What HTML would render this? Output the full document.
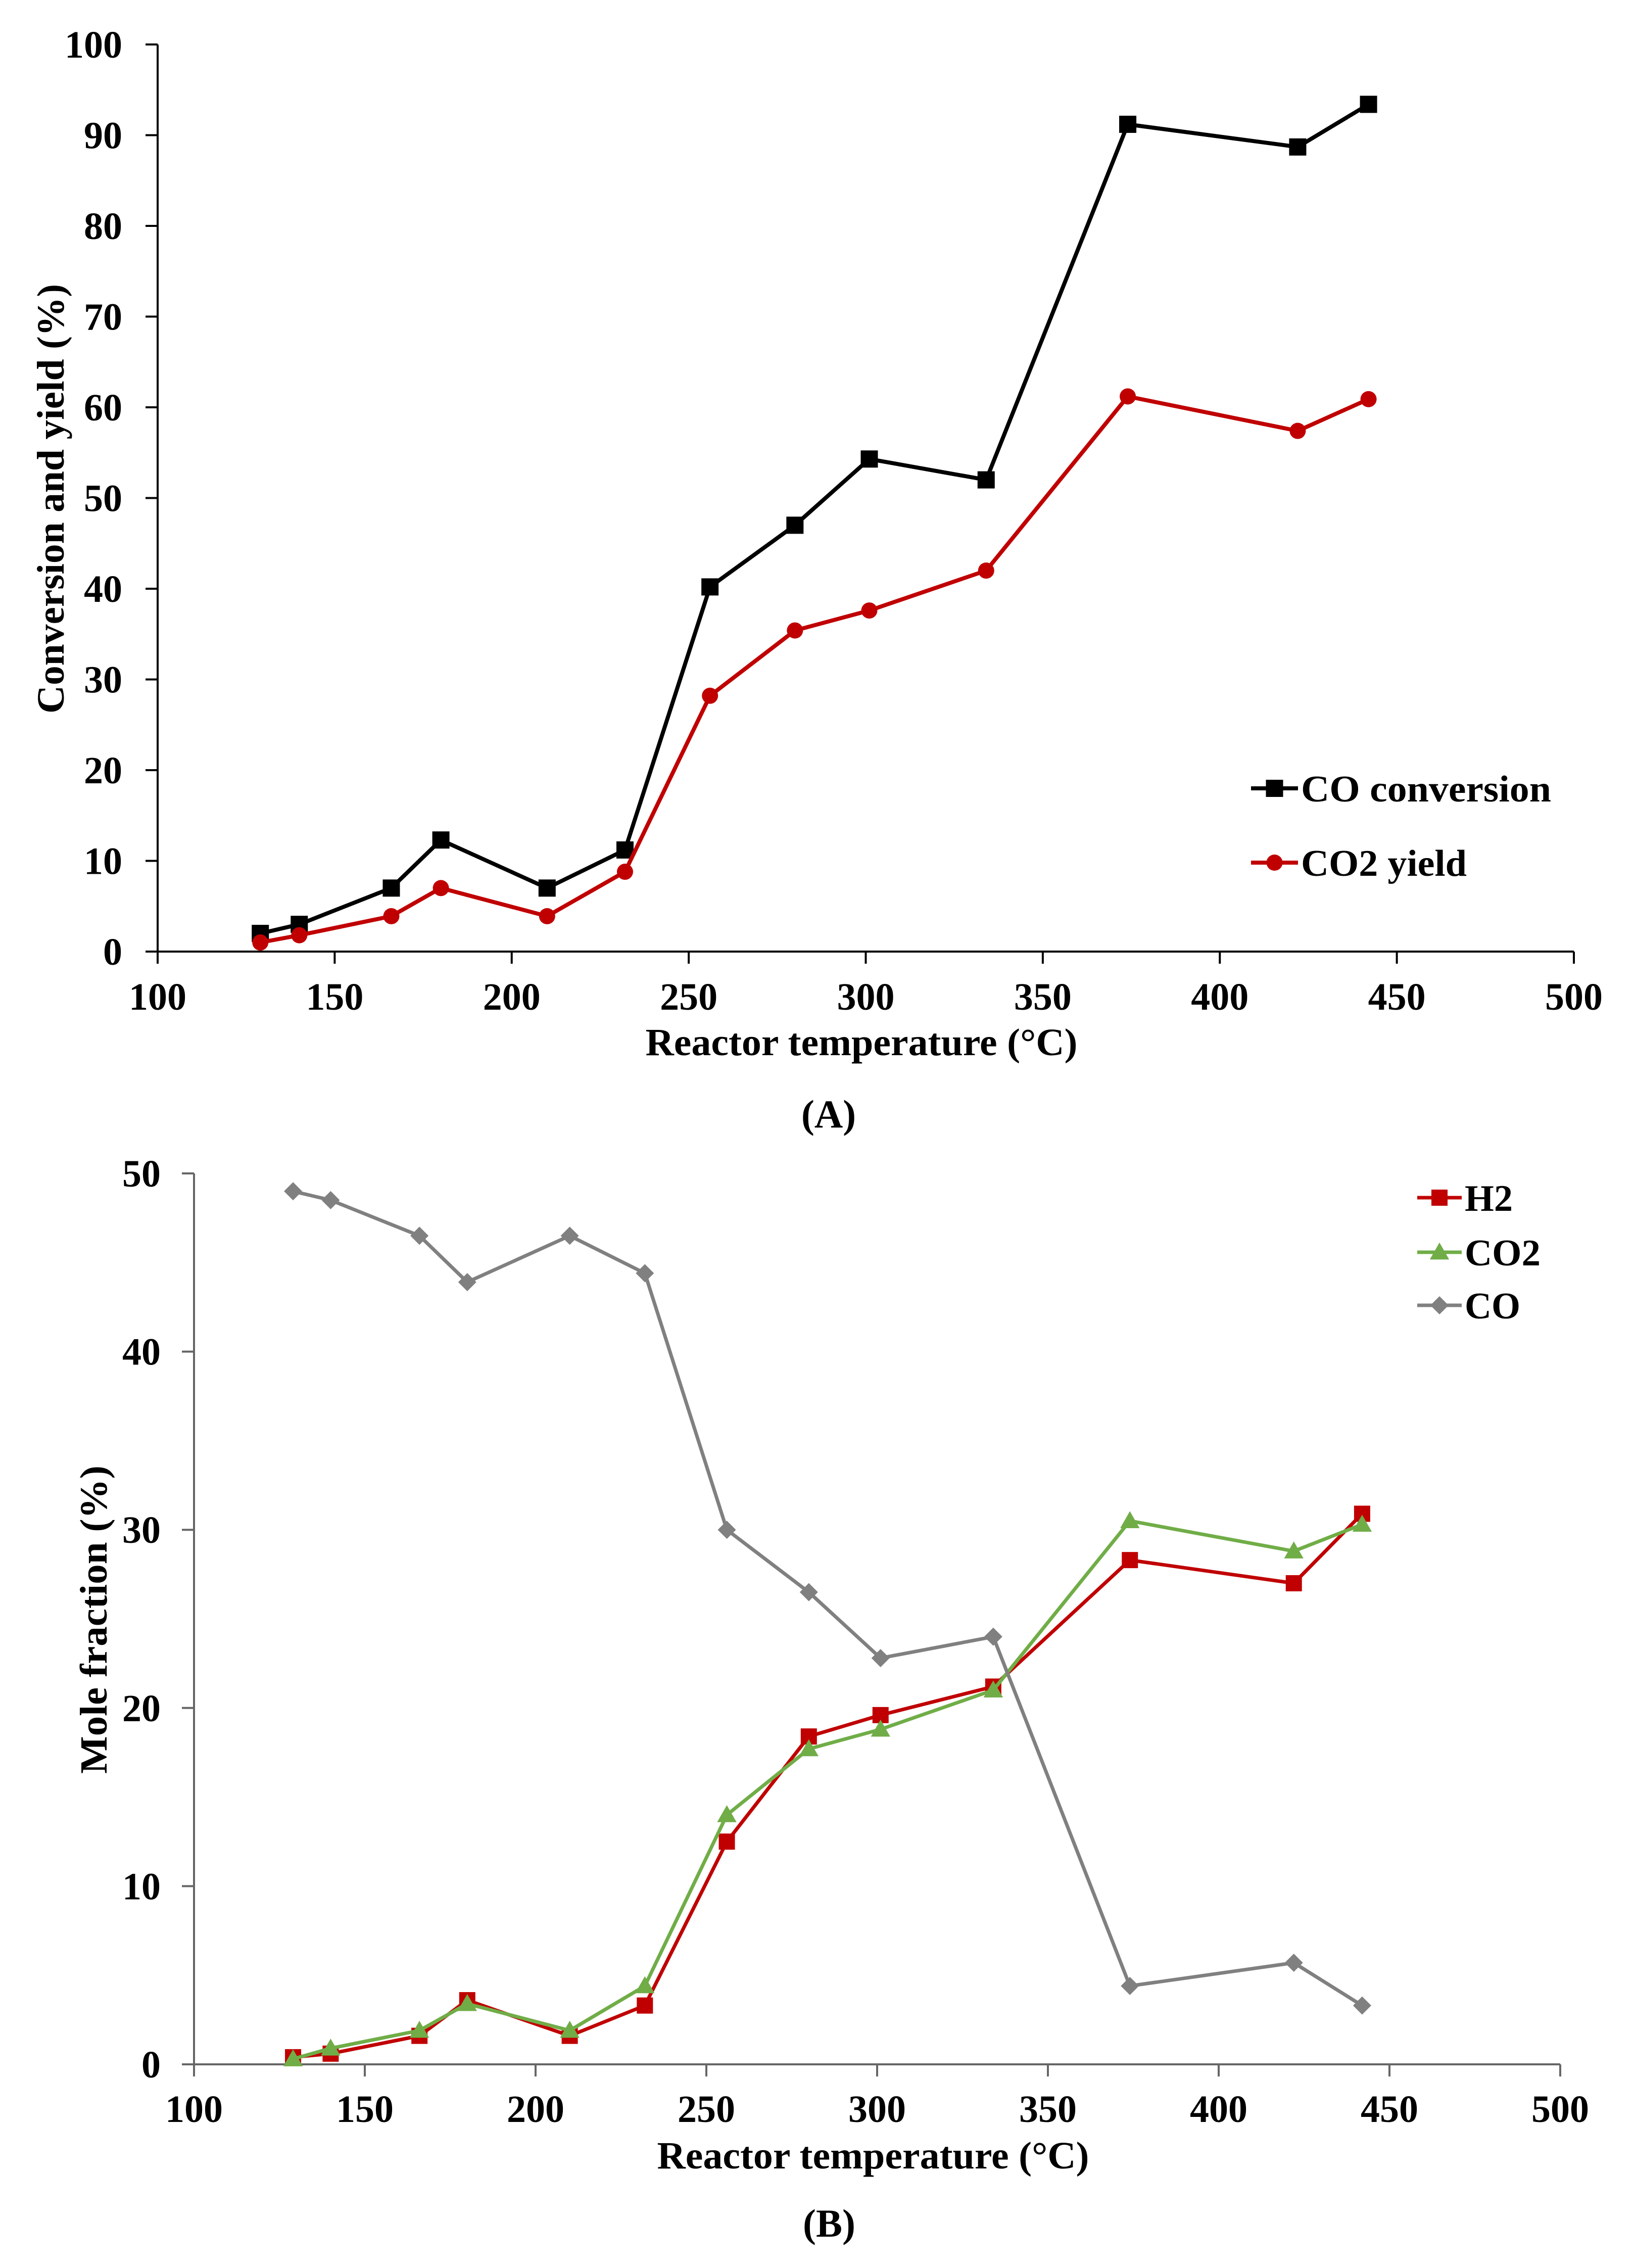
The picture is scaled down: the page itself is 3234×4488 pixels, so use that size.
<!DOCTYPE html>
<html><head><meta charset="utf-8"><style>
html,body{margin:0;padding:0;background:#fff;}
svg{display:block;}
text{font-family:"Liberation Serif",serif;font-weight:bold;fill:#000;}
</style></head><body>
<svg id="fig" width="3234" height="4488" viewBox="0 0 3234 4488" xmlns="http://www.w3.org/2000/svg"></svg>
<script>
// Shared temperatures
const temps = [129, 140, 166, 180, 210, 232, 256, 280, 301, 334, 374, 422, 442];
// Chart A series
const coConversion = [2, 3, 7, 12.3, 7, 11.2, 40.2, 47, 54.3, 52, 91.2, 88.7, 93.4];
const co2Yield = [1, 1.8, 3.9, 7, 3.9, 8.8, 28.2, 35.4, 37.6, 42, 61.2, 57.4, 60.9];
// Chart B series
const h2Frac = [0.4, 0.6, 1.6, 3.6, 1.6, 3.3, 12.5, 18.4, 19.6, 21.2, 28.3, 27, 30.9];
const co2Frac = [0.3, 0.9, 1.9, 3.4, 1.9, 4.4, 14, 17.7, 18.8, 21, 30.5, 28.8, 30.3];
const coFrac = [49, 48.5, 46.5, 43.9, 46.5, 44.4, 30, 26.5, 22.8, 24, 4.4, 5.7, 3.3];
// Ticks
const xTicks = [100, 150, 200, 250, 300, 350, 400, 450, 500];
const yTicksA = [0, 10, 20, 30, 40, 50, 60, 70, 80, 90, 100];
const yTicksB = [0, 10, 20, 30, 40, 50];

const NS = "http://www.w3.org/2000/svg";
const svg = document.getElementById('fig');
function mk(tag, attrs, parent, txt) {
  const e = document.createElementNS(NS, tag);
  for (const k in attrs) e.setAttribute(k, attrs[k]);
  if (txt !== undefined) e.textContent = txt;
  (parent || svg).appendChild(e);
  return e;
}

function chart(cfg) {
  const g = mk('g', {});
  
  
  const sx = v => cfg.x0 + (v - 100) / 400 * (cfg.x1 - cfg.x0);
  const sy = v => cfg.y0 - v / cfg.ymax * (cfg.y0 - cfg.y1);
  // axes
  const ax = mk('g', {}, g);
  
  
  mk('line', {x1: cfg.x0, y1: cfg.y1, x2: cfg.x0, y2: cfg.y0, stroke: cfg.axisColor, 'stroke-width': 4}, ax);
  mk('line', {x1: cfg.x0 - 22, y1: cfg.y0, x2: cfg.x1, y2: cfg.y0, stroke: cfg.axisColor, 'stroke-width': 4}, ax);
  cfg.yTicks.forEach(t => {
    mk('line', {x1: cfg.x0 - 24, y1: sy(t), x2: cfg.x0, y2: sy(t), stroke: cfg.axisColor, 'stroke-width': 4}, ax);
    const lb = mk('text', {x: cfg.yLabelX, y: sy(t) + 26, 'text-anchor': 'end', 'font-size': 76}, ax, String(t));
    
    
  });
  xTicks.forEach(t => {
    mk('line', {x1: sx(t), y1: cfg.y0, x2: sx(t), y2: cfg.y0 + 24, stroke: cfg.axisColor, 'stroke-width': 4}, ax);
    const lb = mk('text', {x: sx(t), y: cfg.xLabelY + 26, 'text-anchor': 'middle', 'font-size': 76}, ax, String(t));
    
    
  });
  const xt = mk('text', {x: cfg.xTitleX, y: cfg.xTitleY + 26, 'text-anchor': 'middle', 'font-size': 76, textLength: 855, lengthAdjust: 'spacingAndGlyphs'}, g, 'Reactor temperature (°C)');
  
  
  const yt = mk('text', {x: 0, y: 0, 'text-anchor': 'middle', 'font-size': 76, textLength: cfg.yTitleLen, lengthAdjust: 'spacingAndGlyphs', transform: `translate(${cfg.yTitleX + 26},${cfg.yTitleY}) rotate(-90)`}, g, cfg.yTitle);
  
  
  const pl = mk('text', {x: cfg.panelX, y: cfg.panelY + 26, 'text-anchor': 'middle', 'font-size': 78}, g, cfg.panel);
  
  

  cfg.series.forEach(s => {
    const sg = mk('g', {}, g);
    
    
    const pts = temps.map((t, i) => sx(t).toFixed(1) + ',' + sy(s.data[i]).toFixed(1)).join(' ');
    const ln = mk('polyline', {points: pts, fill: 'none', stroke: s.color, 'stroke-width': s.lw, 'stroke-linejoin': 'round'}, sg);
    
    
    temps.forEach((t, i) => {
      const m = marker(s.marker, sx(t), sy(s.data[i]), s.color, s.ms, sg);
      
      
    });
    // legend
    const lg = mk('g', {}, g);
    
    
    mk('line', {x1: s.lx0, y1: s.ly, x2: s.lx1, y2: s.ly, stroke: s.color, 'stroke-width': s.lw}, lg);
    marker(s.marker, (s.lx0 + s.lx1) / 2, s.ly, s.color, s.ms, lg);
    mk('text', {x: s.lx1 + 6, y: s.ly + 26, 'font-size': 74, textLength: s.tl, lengthAdjust: 'spacingAndGlyphs'}, lg, s.label);
  });
}
function marker(type, x, y, c, s, parent) {
  if (type === 'square') return mk('rect', {x: x - s / 2, y: y - s / 2, width: s, height: s, fill: c}, parent);
  if (type === 'circle') return mk('circle', {cx: x, cy: y, r: s / 2, fill: c}, parent);
  if (type === 'triangle') return mk('polygon', {points: `${x},${y - s * 0.6} ${x - s * 0.6},${y + s * 0.45} ${x + s * 0.6},${y + s * 0.45}`, fill: c}, parent);
  return mk('polygon', {points: `${x},${y - s * 0.6} ${x + s * 0.6},${y} ${x},${y + s * 0.6} ${x - s * 0.6},${y}`, fill: c}, parent);
}

chart({
  name: 'chart-a', x0: 312, x1: 3115, y0: 1883, y1: 88, ymax: 100, axisColor: '#000',
  yTicks: yTicksA, yLabelX: 242, xLabelY: 1972,
  xTitleX: 1705, xTitleY: 2062, yTitle: 'Conversion and yield (%)', yTitleX: 100, yTitleY: 987, yTitleLen: 850,
  panel: '(A)', panelX: 1640, panelY: 2205,
  series: [
    {name: 'co-conversion', data: coConversion, color: '#000', lw: 8, marker: 'square', ms: 34, label: 'CO conversion', lx0: 2476, lx1: 2569, ly: 1560, tl: 495},
    {name: 'co2-yield', data: co2Yield, color: '#c00000', lw: 8, marker: 'circle', ms: 32, label: 'CO2 yield', lx0: 2476, lx1: 2569, ly: 1707, tl: 328}
  ]
});
chart({
  name: 'chart-b', x0: 384, x1: 3088, y0: 4085, y1: 2322, ymax: 50, axisColor: '#666',
  yTicks: yTicksB, yLabelX: 318, xLabelY: 4173,
  xTitleX: 1728, xTitleY: 4265, yTitle: 'Mole fraction (%)', yTitleX: 185, yTitleY: 3205, yTitleLen: 610,
  panel: '(B)', panelX: 1641, panelY: 4400,
  series: [
    {name: 'h2', data: h2Frac, color: '#c00000', lw: 7, marker: 'square', ms: 32, label: 'H2', lx0: 2805, lx1: 2893, ly: 2370, tl: 95},
    {name: 'co2', data: co2Frac, color: '#70ad47', lw: 7, marker: 'triangle', ms: 32, label: 'CO2', lx0: 2805, lx1: 2893, ly: 2478, tl: 150},
    {name: 'co', data: coFrac, color: '#808080', lw: 7, marker: 'diamond', ms: 30, label: 'CO', lx0: 2805, lx1: 2893, ly: 2583, tl: 110}
  ]
});
</script>
</body></html>
